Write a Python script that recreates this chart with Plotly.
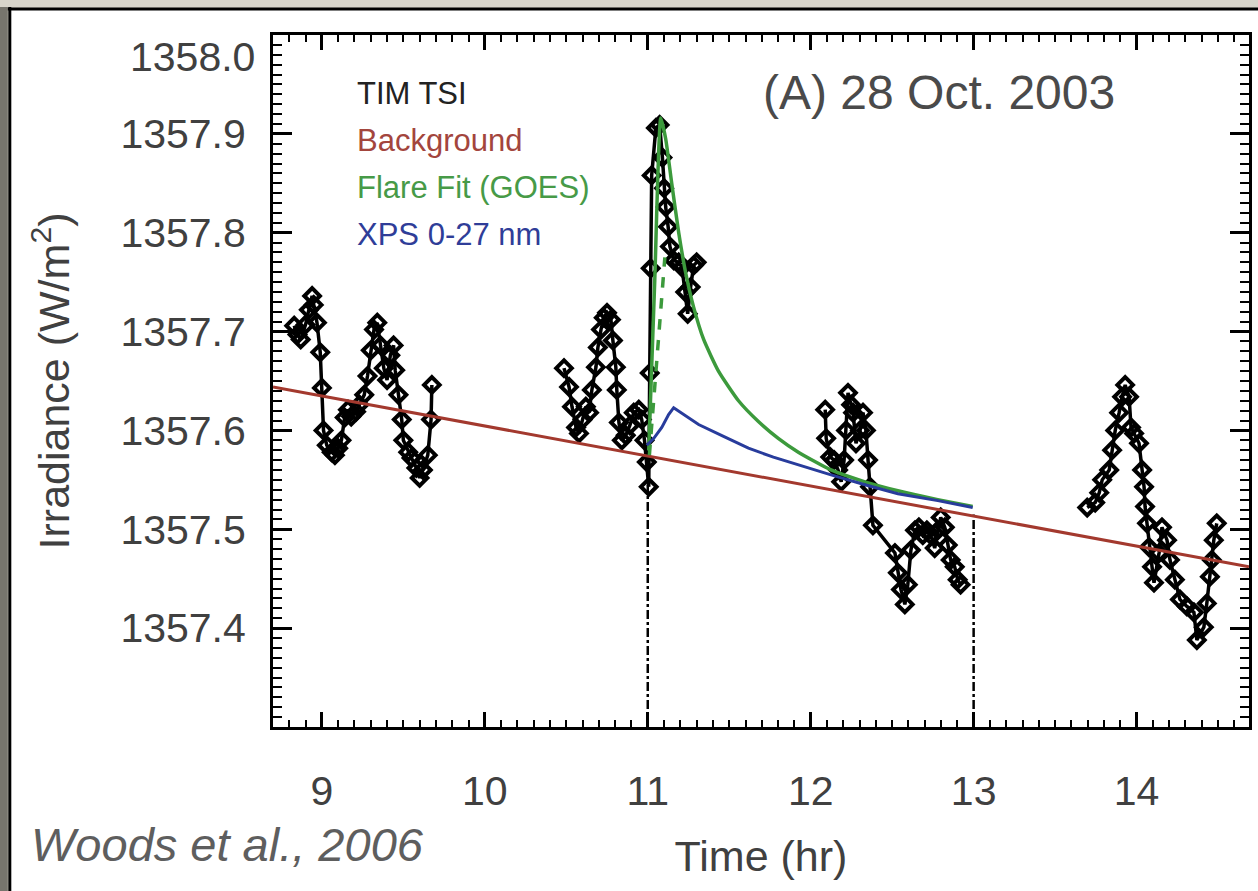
import plotly.graph_objects as go

# ---- TIM TSI measurements (hours, W/m^2), four observing segments ----
seg1_t = [8.83, 8.85, 8.87, 8.90, 8.92, 8.94, 8.95, 8.97, 8.99, 9.00, 9.01, 9.03, 9.06, 9.08,
          9.10, 9.12, 9.14, 9.16, 9.18, 9.21, 9.23, 9.26, 9.28, 9.30, 9.32, 9.34, 9.36, 9.38,
          9.40, 9.42, 9.44, 9.45, 9.47, 9.49, 9.50, 9.53, 9.55, 9.58, 9.60, 9.62, 9.65, 9.67, 9.675]
seg1_y = [1357.706, 1357.697, 1357.692, 1357.707, 1357.722, 1357.736, 1357.727, 1357.709,
          1357.679, 1357.643, 1357.600, 1357.585, 1357.578, 1357.575, 1357.582, 1357.590,
          1357.613, 1357.621, 1357.614, 1357.619, 1357.626, 1357.636, 1357.655, 1357.681,
          1357.702, 1357.709, 1357.686, 1357.663, 1357.651, 1357.676, 1357.686, 1357.661,
          1357.636, 1357.611, 1357.590, 1357.578, 1357.572, 1357.562, 1357.552, 1357.560,
          1357.575, 1357.611, 1357.646]

seg2_t = [10.486, 10.517, 10.535, 10.560, 10.578, 10.600, 10.620, 10.640, 10.657, 10.682,
          10.694, 10.713, 10.730, 10.750, 10.774, 10.786, 10.804, 10.810, 10.823, 10.841,
          10.865, 10.890, 10.914, 10.945, 10.963, 10.980, 10.994, 11.006, 11.012, 11.018,
          11.024, 11.050, 11.073, 11.090, 11.100, 11.110, 11.125, 11.136, 11.160, 11.190,
          11.210, 11.230, 11.245, 11.263, 11.282, 11.300]
seg2_y = [1357.663, 1357.644, 1357.624, 1357.603, 1357.597, 1357.611, 1357.624, 1357.618,
          1357.641, 1357.664, 1357.684, 1357.702, 1357.714, 1357.719, 1357.712, 1357.691,
          1357.664, 1357.641, 1357.608, 1357.590, 1357.595, 1357.605, 1357.618, 1357.621,
          1357.611, 1357.590, 1357.568, 1357.543, 1357.658, 1357.764, 1357.858, 1357.906,
          1357.909, 1357.876, 1357.845, 1357.826, 1357.806, 1357.786, 1357.772, 1357.770,
          1357.765, 1357.740, 1357.718, 1357.745, 1357.767, 1357.770]

seg3_t = [12.089, 12.095, 12.120, 12.144, 12.168, 12.187, 12.205, 12.217, 12.229, 12.248,
          12.260, 12.278, 12.303, 12.321, 12.339, 12.352, 12.364, 12.382, 12.517, 12.535,
          12.554, 12.578, 12.596, 12.615, 12.640, 12.664, 12.688, 12.713, 12.737, 12.761,
          12.780, 12.798, 12.823, 12.841, 12.859, 12.884, 12.902, 12.920]
seg3_y = [1357.621, 1357.592, 1357.573, 1357.570, 1357.560, 1357.548, 1357.570, 1357.600,
          1357.638, 1357.626, 1357.618, 1357.587, 1357.600, 1357.618, 1357.600, 1357.570,
          1357.543, 1357.504, 1357.476, 1357.456, 1357.439, 1357.424, 1357.444, 1357.479,
          1357.499, 1357.502, 1357.494, 1357.499, 1357.494, 1357.481, 1357.499, 1357.512,
          1357.502, 1357.484, 1357.469, 1357.462, 1357.449, 1357.444]

seg4_t = [13.697, 13.746, 13.771, 13.789, 13.832, 13.850, 13.869, 13.893, 13.911, 13.930,
          13.954, 13.966, 13.985, 14.015, 14.034, 14.046, 14.052, 14.064, 14.076, 14.095,
          14.107, 14.138, 14.156, 14.187, 14.205, 14.235, 14.266, 14.309, 14.352, 14.370,
          14.413, 14.431, 14.450, 14.462, 14.474, 14.492]
seg4_y = [1357.522, 1357.527, 1357.537, 1357.550, 1357.560, 1357.580, 1357.600, 1357.618,
          1357.634, 1357.646, 1357.634, 1357.603, 1357.597, 1357.587, 1357.560, 1357.543,
          1357.523, 1357.506, 1357.482, 1357.462, 1357.446, 1357.476, 1357.502, 1357.489,
          1357.469, 1357.449, 1357.429, 1357.422, 1357.416, 1357.388, 1357.401, 1357.425,
          1357.452, 1357.469, 1357.489, 1357.506]

# ---- Background (linear trend) ----
bg_t = [8.70, 14.69]
bg_y = [1357.644, 1357.462]

# ---- Flare fit (GOES) ----
fit_t = [11.006, 11.043, 11.080, 11.110, 11.147, 11.190, 11.232, 11.281, 11.343, 11.434,
         11.557, 11.679, 11.801, 11.924, 12.125, 12.333, 12.535, 12.780, 12.994]
fit_y = [1357.580, 1357.752, 1357.916, 1357.895, 1357.850, 1357.800, 1357.760, 1357.725,
         1357.692, 1357.660, 1357.630, 1357.609, 1357.592, 1357.578, 1357.560, 1357.548,
         1357.539, 1357.530, 1357.523]
fit_dash_t = [11.010, 11.105]
fit_dash_y = [1357.575, 1357.775]

# ---- XPS 0-27 nm ----
xps_t = [10.994, 11.037, 11.086, 11.128, 11.159, 11.220, 11.312, 11.465, 11.618, 11.771,
         11.924, 12.125, 12.333, 12.535, 12.780, 12.994]
xps_y = [1357.585, 1357.592, 1357.603, 1357.616, 1357.623, 1357.616, 1357.606, 1357.594,
         1357.582, 1357.573, 1357.565, 1357.555, 1357.545, 1357.536, 1357.529, 1357.522]

# ---- flare window markers ----
win_t = [11.0, 13.0]
win_top = [1357.545, 1357.515]

x_ticks = [9, 10, 11, 12, 13, 14]
y_ticks = [1357.4, 1357.5, 1357.6, 1357.7, 1357.8, 1357.9]
y_ticktext = ["1357.4", "1357.5", "1357.6", "1357.7", "1357.8", "1357.9"]
y_top_label = "1358.0"

XR = [8.7, 14.69]
YR = [1357.3, 1358.0]

tsi_t, tsi_y = [], []
for tt, yy in [(seg1_t, seg1_y), (seg2_t, seg2_y), (seg3_t, seg3_y), (seg4_t, seg4_y)]:
    tsi_t += tt + [None]
    tsi_y += yy + [None]

fig = go.Figure()
fig.add_trace(go.Scatter(
    x=tsi_t, y=tsi_y, mode="lines+markers", name="TIM TSI",
    line=dict(color="black", width=3.5),
    marker=dict(symbol="diamond-open", size=12, color="black", line=dict(width=4, color="black"))))

for t0, top in zip(win_t, win_top):
    fig.add_trace(go.Scatter(x=[t0, t0], y=[YR[0], top], mode="lines",
                             line=dict(color="black", width=2.5, dash="dashdot"), showlegend=False))

fig.add_trace(go.Scatter(x=bg_t, y=bg_y, mode="lines", name="Background",
                         line=dict(color="#a3392e", width=3)))
fig.add_trace(go.Scatter(x=fit_t, y=fit_y, mode="lines", name="Flare Fit (GOES)",
                         line=dict(color="#3c9a3c", width=3.5, shape="spline", smoothing=0.5)))
fig.add_trace(go.Scatter(x=fit_dash_t, y=fit_dash_y, mode="lines", showlegend=False,
                         line=dict(color="#3c9a3c", width=3.5, dash="dash")))
fig.add_trace(go.Scatter(x=xps_t, y=xps_y, mode="lines", name="XPS 0-27 nm",
                         line=dict(color="#283c9c", width=3)))

FONT = "Liberation Sans, Arial, Helvetica, sans-serif"
TXT = "#404040"
axis_common = dict(showline=True, linecolor="black", linewidth=3, mirror="ticks",
                   ticks="inside", tickcolor="black", tickwidth=2.5,
                   showgrid=False, zeroline=False,
                   tickfont=dict(family=FONT, size=41, color=TXT))

fig.update_xaxes(range=XR, tickvals=x_ticks, ticklen=15,
                 minor=dict(dtick=0.1, ticklen=7, ticks="inside", tickcolor="black", tickwidth=2),
                 ticklabelstandoff=26,
                 title=dict(text="Time (hr)", font=dict(family=FONT, size=43, color=TXT),
                            standoff=28),
                 **axis_common)
fig.update_yaxes(range=YR, tickvals=y_ticks, ticktext=y_ticktext, ticklen=19,
                 minor=dict(dtick=0.01, ticklen=9, ticks="inside", tickcolor="black", tickwidth=2),
                 ticklabelstandoff=16,
                 title=dict(text="Irradiance (W/m<sup>2</sup>)",
                            font=dict(family=FONT, size=43, color=TXT), standoff=38),
                 **axis_common)

L, R, T, B, W, H = 273, 6, 35, 164, 1258, 891
pw, ph = W - L - R, H - T - B
def px(x):
    return (x - L) / pw
def py(y):
    return (H - B - y) / ph

shapes = [
    dict(type="rect", xref="paper", yref="paper", x0=px(10), x1=px(1300), y0=py(950), y1=py(10),
         fillcolor="white", line=dict(width=0), layer="below"),
    dict(type="rect", xref="paper", yref="paper", x0=px(-5), x1=px(7), y0=py(950), y1=py(7),
         fillcolor="#77756d", line=dict(width=0), layer="below"),
    dict(type="line", xref="paper", yref="paper", x0=px(7), x1=px(1300), y0=py(9), y1=py(9),
         line=dict(color="black", width=3), layer="below"),
    dict(type="line", xref="paper", yref="paper", x0=px(9), x1=px(9), y0=py(7), y1=py(950),
         line=dict(color="black", width=3), layer="below"),
]

legend_items = [("TIM TSI", "#222222", 93), ("Background", "#a3453d", 140),
                ("Flare Fit (GOES)", "#479a47", 187), ("XPS 0-27 nm", "#2f3d98", 235)]
annotations = []
for txt, col, yy in legend_items:
    annotations.append(dict(text=txt, xref="paper", yref="paper", x=px(355), y=py(yy),
                            xanchor="left", yanchor="middle", showarrow=False,
                            font=dict(family=FONT, size=31, color=col)))
annotations.append(dict(text=y_top_label, xref="paper", yref="paper", x=px(257), y=py(57),
                        xanchor="right", yanchor="middle", showarrow=False,
                        font=dict(family=FONT, size=41, color=TXT)))
annotations.append(dict(text="(A) 28 Oct. 2003", xref="paper", yref="paper", x=px(763), y=py(92),
                        xanchor="left", yanchor="middle", showarrow=False,
                        font=dict(family=FONT, size=48, color="#4a4a4a")))
annotations.append(dict(text="<i>Woods et al., 2006</i>", xref="paper", yref="paper", x=px(28), y=py(845),
                        xanchor="left", yanchor="middle", showarrow=False,
                        font=dict(family=FONT, size=47, color="#5e5e5e")))

fig.update_layout(width=W, height=H, autosize=False,
                  margin=dict(l=L, r=R, t=T, b=B, pad=0),
                  paper_bgcolor="#d8d5cb", plot_bgcolor="white",
                  showlegend=False, shapes=shapes, annotations=annotations)

fig.write_html("out.html")
